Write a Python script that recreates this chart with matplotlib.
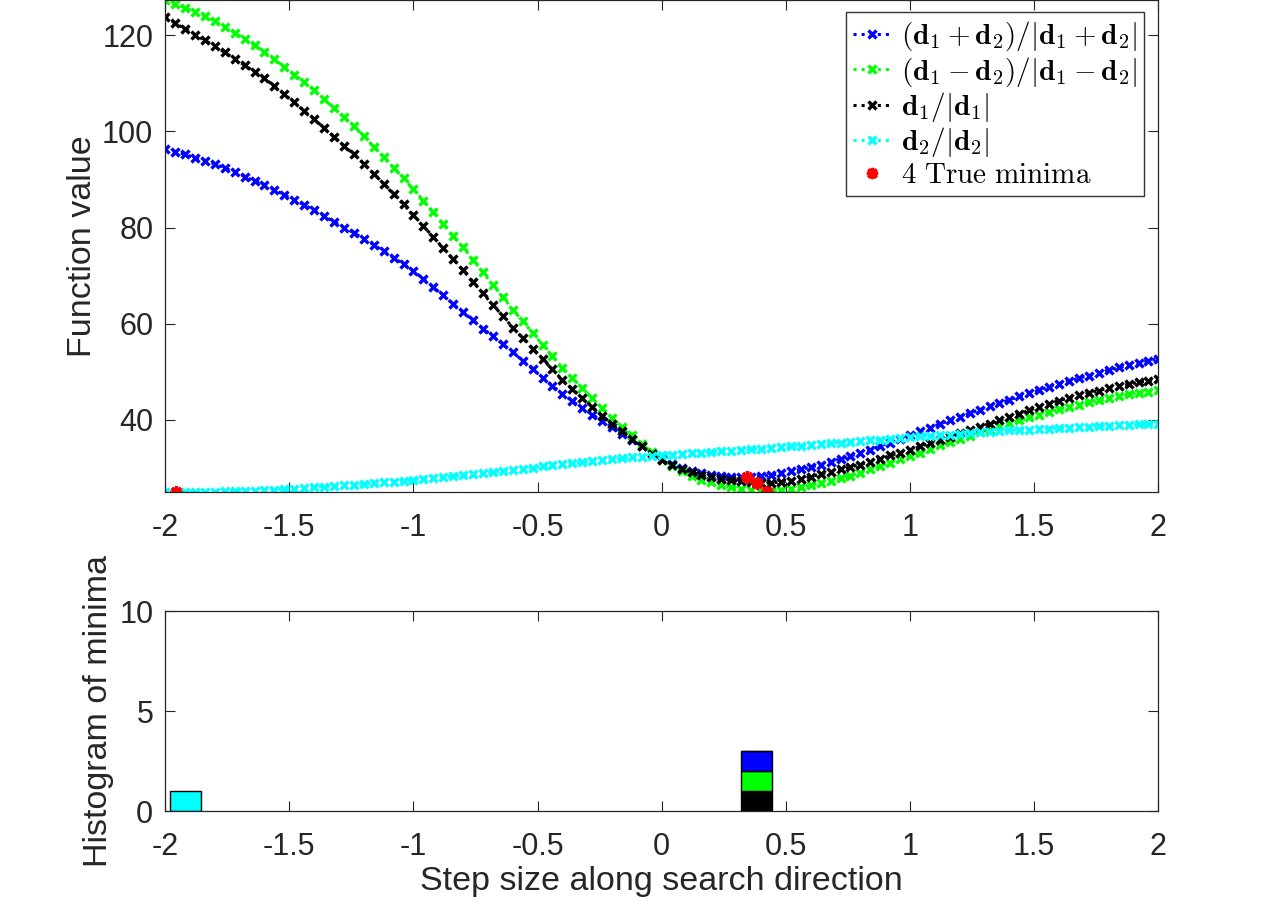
import numpy as np
import matplotlib
matplotlib.use("Agg")
import matplotlib.pyplot as plt

plt.rcParams['font.family'] = ['Liberation Sans', 'DejaVu Sans']
plt.rcParams['mathtext.fontset'] = 'cm'
plt.rcParams['axes.unicode_minus'] = False

# ---------------- data ----------------
step_sizes = np.linspace(-2, 2, 101)

f_sum = [96.4, 95.8, 95.2, 94.5, 93.9, 93.2, 92.4, 91.5, 90.6, 89.7,
         88.8, 87.8, 86.8, 85.7, 84.7, 83.6, 82.4, 81.2, 80.0, 78.9,
         77.7, 76.4, 75.1, 73.7, 72.4, 71.0, 69.3, 67.6, 65.9, 64.1,
         62.4, 60.7, 59.0, 57.4, 55.7, 54.1, 52.3, 50.6, 48.8, 47.1,
         45.4, 43.9, 42.5, 41.1, 39.8, 38.5, 37.1, 35.8, 34.5, 33.1,
         31.8, 30.8, 30.0, 29.4, 28.9, 28.6, 28.4, 28.2, 28.2, 28.2,
         28.3, 28.5, 28.9, 29.3, 29.7, 30.2, 30.7, 31.3, 31.9, 32.5,
         33.1, 33.8, 34.6, 35.3, 36.1, 36.8, 37.6, 38.4, 39.2, 39.9,
         40.7, 41.4, 42.1, 42.8, 43.5, 44.2, 44.9, 45.5, 46.2, 46.9,
         47.5, 48.1, 48.7, 49.2, 49.8, 50.4, 50.9, 51.4, 51.8, 52.3,
         52.7]

f_diff = [127.3, 126.5, 125.7, 124.8, 123.9, 122.9, 121.7, 120.5, 119.2, 117.9,
          116.5, 115.0, 113.4, 111.8, 110.2, 108.5, 106.7, 104.8, 102.9, 101.0,
          99.0, 96.8, 94.6, 92.4, 90.2, 88.0, 85.6, 83.2, 80.8, 78.3,
          75.9, 73.3, 70.7, 68.1, 65.5, 62.9, 60.5, 58.1, 55.6, 53.2,
          50.8, 48.7, 46.6, 44.5, 42.5, 40.4, 38.6, 36.8, 35.0, 33.3,
          31.6, 30.4, 29.3, 28.4, 27.6, 27.0, 26.5, 26.0, 25.7, 25.4,
          25.3, 25.2, 25.4, 25.6, 26.0, 26.4, 26.9, 27.4, 27.9, 28.4,
          29.0, 29.7, 30.4, 31.1, 31.8, 32.5, 33.2, 34.0, 34.7, 35.4,
          36.0, 36.7, 37.4, 38.0, 38.7, 39.3, 39.9, 40.5, 41.1, 41.7,
          42.2, 42.7, 43.2, 43.7, 44.1, 44.5, 44.9, 45.3, 45.6, 45.9,
          46.2]

f_d1 = [123.7, 122.5, 121.3, 120.1, 118.9, 117.7, 116.4, 115.1, 113.7, 112.4,
        111.0, 109.4, 107.7, 106.0, 104.2, 102.5, 100.7, 98.9, 97.0, 95.2,
        93.3, 91.2, 89.1, 86.9, 84.8, 82.6, 80.3, 78.0, 75.7, 73.4,
        71.1, 68.7, 66.3, 63.9, 61.6, 59.2, 57.0, 54.8, 52.6, 50.5,
        48.3, 46.4, 44.6, 42.7, 40.9, 39.1, 37.6, 36.0, 34.5, 33.0,
        31.6, 30.6, 29.8, 29.1, 28.6, 28.2, 27.8, 27.5, 27.2, 27.0,
        26.9, 26.9, 27.1, 27.4, 27.8, 28.2, 28.7, 29.2, 29.7, 30.2,
        30.7, 31.3, 31.9, 32.6, 33.2, 33.8, 34.5, 35.2, 35.8, 36.5,
        37.2, 37.9, 38.6, 39.2, 39.9, 40.6, 41.3, 42.0, 42.7, 43.4,
        44.0, 44.6, 45.1, 45.6, 46.1, 46.6, 47.0, 47.4, 47.8, 48.1,
        48.4]

f_d2 = [25.05, 24.95, 24.97, 25.0, 25.05, 25.1, 25.15, 25.2, 25.25, 25.3,
        25.4, 25.5, 25.6, 25.7, 25.85, 26.0, 26.15, 26.3, 26.4, 26.55,
        26.7, 26.85, 27.0, 27.15, 27.3, 27.5, 27.7, 27.9, 28.1, 28.3,
        28.5, 28.7, 28.9, 29.15, 29.4, 29.6, 29.85, 30.1, 30.35, 30.6,
        30.8, 31.0, 31.2, 31.4, 31.6, 31.8, 32.0, 32.2, 32.35, 32.55,
        32.7, 32.8, 32.95, 33.05, 33.2, 33.3, 33.45, 33.6, 33.7, 33.85,
        34.0, 34.15, 34.3, 34.5, 34.65, 34.8, 34.95, 35.1, 35.3, 35.45,
        35.6, 35.75, 35.9, 36.1, 36.25, 36.4, 36.55, 36.7, 36.85, 36.95,
        37.1, 37.25, 37.4, 37.55, 37.65, 37.8, 37.9, 38.0, 38.1, 38.2,
        38.3, 38.4, 38.5, 38.6, 38.7, 38.8, 38.9, 38.95, 39.05, 39.1,
        39.2]

minima_x = [-1.956, 0.343, 0.383, 0.424]
minima_y = [24.95, 28.2, 26.8, 25.1]

# histogram of minima (bin left edges, counts per series)
bin_left = [-1.98, 0.32]
bin_width = 0.125
hist_black = [0, 1]
hist_green = [0, 1]
hist_blue = [0, 1]
hist_cyan = [1, 0]

labels = [r'$(\mathbf{d}_1+\mathbf{d}_2)/|\mathbf{d}_1+\mathbf{d}_2|$',
          r'$(\mathbf{d}_1-\mathbf{d}_2)/|\mathbf{d}_1-\mathbf{d}_2|$',
          r'$\mathbf{d}_1/|\mathbf{d}_1|$',
          r'$\mathbf{d}_2/|\mathbf{d}_2|$',
          r'$\mathrm{4\ True\ minima}$']

xticks = [-2, -1.5, -1, -0.5, 0, 0.5, 1, 1.5, 2]
xticklabels = ['-2', '-1.5', '-1', '-0.5', '0', '0.5', '1', '1.5', '2']

# ---------------- figure ----------------
axc = '#262626'
TICK_FS = 22
LABEL_FS = 24.5
fig = plt.figure(figsize=(12.8, 9.07), dpi=100)
ax1 = fig.add_axes([0.129, 0.4575, 0.776, 0.5425])
ax2 = fig.add_axes([0.129, 0.1058, 0.776, 0.2205])

series = [(f_sum, '#0000ff'), (f_diff, '#00ff00'), (f_d1, '#000000'), (f_d2, '#00ffff')]
for (vals, col), lab in zip(series, labels[:4]):
    ax1.plot(step_sizes, vals, linestyle=':', color=col, lw=2.2,
             marker='x', ms=6, mew=2.4, label=lab)
ax1.plot(minima_x, minima_y, linestyle='none', marker=(8, 2, 0), color='#ff0000',
         ms=9, mew=2.4, label=labels[4])

ax1.set_xlim(-2, 2)
ax1.set_ylim(25.0, 127.3)
ax1.set_yticks([40, 60, 80, 100, 120])
ax1.set_xticks(xticks)
ax1.set_xticklabels(xticklabels)
ax1.set_ylabel('Function value', fontsize=LABEL_FS, color=axc)
ax1.yaxis.set_label_coords(-0.0675, 0.5)

leg = ax1.legend(loc='upper right', bbox_to_anchor=(0.986, 0.976), borderaxespad=0,
                 fontsize=21, frameon=True, fancybox=False, edgecolor='black',
                 handlelength=1.3, handletextpad=0.35, labelspacing=0.05,
                 borderpad=0.25, markerscale=0.9)
leg.get_frame().set_linewidth(1.0)

# histogram (stacked)
bottoms = [0, 0]
for counts, col in [(hist_black, '#000000'), (hist_green, '#00ff00'),
                    (hist_blue, '#0000ff'), (hist_cyan, '#00ffff')]:
    ax2.bar(bin_left, counts, width=bin_width, bottom=bottoms, align='edge',
            color=col, edgecolor='black', linewidth=1.0)
    bottoms = [b + c for b, c in zip(bottoms, counts)]

ax2.set_xlim(-2, 2)
ax2.set_ylim(0, 10)
ax2.set_yticks([0, 5, 10])
ax2.set_xticks(xticks)
ax2.set_xticklabels(xticklabels)
ax2.set_ylabel('Histogram of minima', fontsize=LABEL_FS, color=axc)
ax2.yaxis.set_label_coords(-0.051, 0.5)
ax2.set_xlabel('Step size along search direction', fontsize=LABEL_FS, color=axc,
               labelpad=3)

for ax in (ax1, ax2):
    ax.tick_params(direction='in', top=True, right=True, length=7, width=0.8,
                   labelsize=TICK_FS, colors=axc)
    ax.tick_params(axis='x', pad=15)
    ax.tick_params(axis='y', pad=8.5)
    for s in ax.spines.values():
        s.set_color(axc)
        s.set_linewidth(0.9)

fig.savefig('out.png', dpi=100)
